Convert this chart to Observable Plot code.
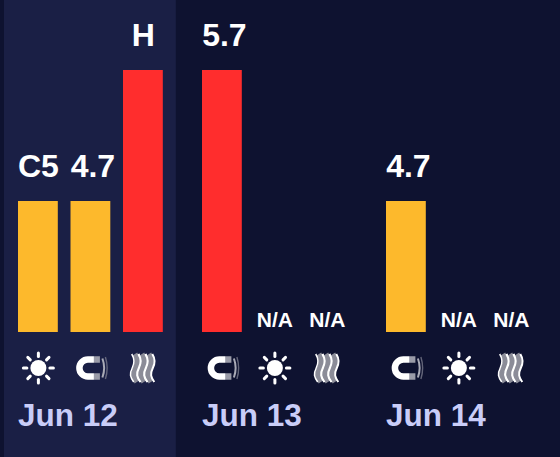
<!DOCTYPE html>
<html>
<head>
<meta charset="utf-8">
<script src="https://cdn.jsdelivr.net/npm/d3@7"></script>
<script src="https://cdn.jsdelivr.net/npm/@observablehq/plot@0.6"></script>
<style>
html,body{margin:0;padding:0;background:#0e1230;width:560px;height:457px;overflow:hidden}
svg{display:block}
</style>
</head>
<body>
<script>
const dates = ["Jun 12", "Jun 12", "Jun 12", "Jun 13", "Jun 13", "Jun 13", "Jun 14", "Jun 14", "Jun 14"];
const slots = [0, 1, 2, 0, 1, 2, 0, 1, 2];
const kinds = ["sun", "magnet", "waves", "magnet", "sun", "waves", "magnet", "sun", "waves"];
const levels = [1, 1, 2, 2, 0, 0, 1, 0, 0];
const labels = ["C5", "4.7", "H", "5.7", "N/A", "N/A", "4.7", "N/A", "N/A"];
const dayNames = ["Jun 12", "Jun 13", "Jun 14"];

const rows = dates.map((date, i) => ({date, slot: slots[i], kind: kinds[i], level: levels[i], label: labels[i]}));
const isNum = d => !isNaN(+d.label);
const uri = s => "data:image/svg+xml;utf8," + encodeURIComponent(`<svg xmlns="http://www.w3.org/2000/svg" viewBox="0 0 40 40" width="40" height="40">${s}</svg>`);
const rays = d3.range(8).map(i => `<line x1="20" y1="5" x2="20" y2="8.5" transform="rotate(${i * 45} 20 20)" stroke="#fff" stroke-width="3" stroke-linecap="round"/>`).join("");
const waveD = x => `M${x} 6c2.5 4,3.5 8,0.5 14s-2 9,1.5 14`;
const wave = x => `<path d="${waveD(x)}" fill="none" stroke="#8b8c98" stroke-width="5.5"/><path d="${waveD(x + 3.4)}" fill="none" stroke="#fff" stroke-width="2"/><path d="${waveD(x - 3.2)}" fill="none" stroke="#fff" stroke-width="1.5"/>`;
const icons = {
  sun: uri(`<circle cx="20" cy="20" r="8" fill="#fff"/>${rays}`),
  magnet: uri(`<defs><linearGradient id="g" x1="0" x2="1" gradientUnits="objectBoundingBox"><stop offset=".68" stop-color="#fff"/><stop offset=".72" stop-color="#9a9ba8"/></linearGradient></defs>
    <path d="M29 11.5H17a8.5 8.5 0 0 0 0 17H29" fill="none" stroke="url(#g)" stroke-width="6.5"/>
    <path d="M31.5 10.5q3.5 9.5 0 19" fill="none" stroke="#a9aab6" stroke-width="2"/><path d="M34.5 9q3.5 11 0 22" fill="none" stroke="#7f8090" stroke-width="1.4" opacity=".75"/>`),
  waves: uri(wave(11.5) + wave(18.5) + wave(25.5))
};

const font = "'Liberation Sans', Arial, sans-serif";
const chart = Plot.plot({
  width: 560,
  height: 457,
  marginTop: 0,
  marginBottom: 0,
  marginLeft: 18,
  marginRight: 29.2,
  style: {background: "transparent", fontFamily: font},
  fx: {domain: dayNames, axis: null, paddingInner: 0.213, paddingOuter: 0, round: false},
  x: {domain: [0, 1, 2], axis: null, paddingInner: 0.2419, paddingOuter: 0, round: false},
  y: {domain: [0, 2], range: [332, 70], axis: null},
  marks: [
    Plot.rect(["Jun 12"], {fx: d => d, fill: "#1a1f45", insetLeft: -14, insetRight: -13}),
    Plot.barY(rows.filter(d => d.level > 0), {fx: "date", x: "slot", y: "level", fill: d => d.level > 1 ? "#ff2d2d" : "#fdb92c"}),
    Plot.text(rows.filter(isNum), {fx: "date", x: "slot", y: "level", text: "label", fill: "#fff", fontSize: 32, fontWeight: 700, dy: -35, dx: 2}),
    Plot.text(rows.filter(d => !isNum(d) && d.label !== "N/A"), {fx: "date", x: "slot", y: "level", text: "label", fill: "#fff", fontSize: 32, fontWeight: 700, dy: -35}),
    Plot.text(rows.filter(d => d.label === "N/A"), {fx: "date", x: "slot", y: "level", text: "label", fill: "#fff", fontSize: 21, fontWeight: 700, dy: -12}),
    Plot.image(rows, {fx: "date", x: "slot", frameAnchor: "top", dy: 367.5, width: 40, height: 40, src: d => icons[d.kind]}),
    Plot.text(dayNames, {fx: d => d, text: d => d, frameAnchor: "bottom-left", lineAnchor: "middle", dy: -42, dx: -0.5, fill: "#c9cdf8", fontSize: 31.5, fontWeight: 700})
  ]
});
document.body.appendChild(chart);
</script>
</body>
</html>
